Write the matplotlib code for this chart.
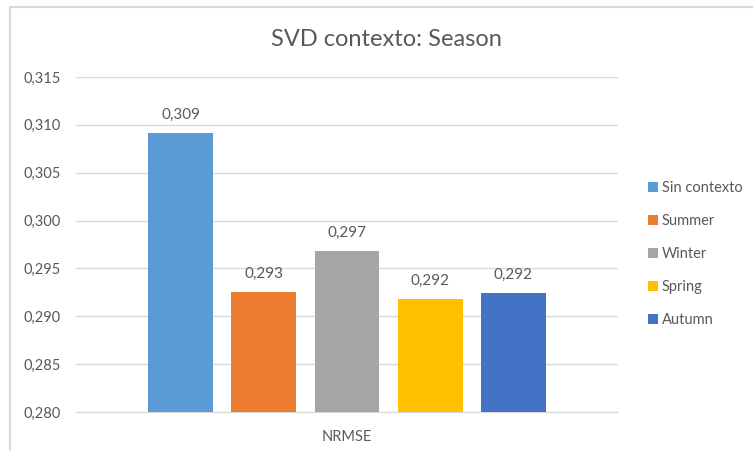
import matplotlib
matplotlib.use("Agg")
import matplotlib.pyplot as plt
from matplotlib.patches import Rectangle
from matplotlib.ticker import FuncFormatter

# data
series = ["Sin contexto", "Summer", "Winter", "Spring", "Autumn"]
values = [0.3092, 0.29257, 0.29685, 0.29181, 0.2924]
colors = ["#5B9BD5", "#ED7D31", "#A5A5A5", "#FFC000", "#4472C4"]
category = "NRMSE"
yticks = [0.280, 0.285, 0.290, 0.295, 0.300, 0.305, 0.310, 0.315]

txt = "#595959"
plt.rcParams['font.family'] = ['Lato', 'DejaVu Sans']

fig = plt.figure(figsize=(7.53, 4.51), dpi=100)
ax = fig.add_axes([76/753, 1-412/451, (618-76)/753, (412-77)/451])

# chart border (only top/left visible, cropped screenshot)
fig.patches.append(Rectangle((10/753, -0.1), 1.2, 1 - 7/451 + 0.1, transform=fig.transFigure,
                             fill=False, edgecolor="#D9D9D9", linewidth=1.5))

for i, (s, v, c) in enumerate(zip(series, values, colors)):
    ax.bar(i, v - 0.280, bottom=0.280, width=0.78, color=c, label=s, zorder=3)
    ax.annotate(f"{v:.3f}".replace(".", ","), (i, v), xytext=(0, 8), textcoords="offset points",
                ha="center", va="bottom", fontsize=11, color=txt)

ax.set_ylim(0.280, 0.315)
ax.set_yticks(yticks)
ax.yaxis.set_major_formatter(FuncFormatter(lambda y, p: f"{y:.3f}".replace(".", ",")))
ax.set_xlim(-1.26, 5.26)
ax.set_xticks([2])
ax.set_xticklabels([category])
ax.grid(axis="y", color="#D9D9D9", linewidth=1, zorder=0)
for sp in ["top", "right", "left"]:
    ax.spines[sp].set_visible(False)
ax.spines["bottom"].set_color("#D9D9D9")
ax.tick_params(axis="both", length=0, colors=txt, labelsize=10.5)
ax.tick_params(axis="y", pad=11)
ax.tick_params(axis="x", pad=13)

fig.text(386/753, 1-40/451, "SVD contexto: Season", ha="center", va="center", fontsize=17, color=txt)

leg = fig.legend(loc="center left", bbox_to_anchor=(635/753, 1-254/451), frameon=False,
                 handlelength=0.7, handleheight=0.7, handletextpad=0.25, labelspacing=1.3,
                 fontsize=10.5, labelcolor=txt)

fig.savefig("out.png", dpi=100, facecolor="white")
